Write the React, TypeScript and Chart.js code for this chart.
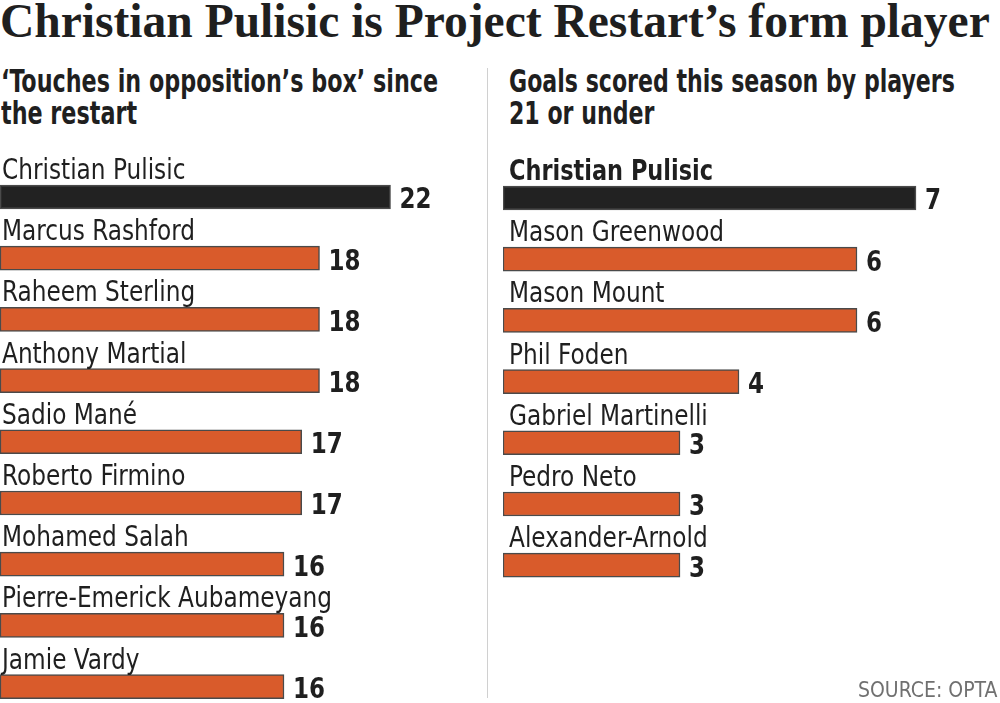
import React, { useEffect, useLayoutEffect, useRef, useState } from "react";
import { Chart, registerables } from "chart.js";

Chart.register(...registerables);

const titleText = "Christian Pulisic is Project Restart’s form player";
const leftSubtitle = ["‘Touches in opposition’s box’ since", "the restart"];
const rightSubtitle = ["Goals scored this season by players", "21 or under"];
const leftPlayers = [
  "Christian Pulisic",
  "Marcus Rashford",
  "Raheem Sterling",
  "Anthony Martial",
  "Sadio Mané",
  "Roberto Firmino",
  "Mohamed Salah",
  "Pierre-Emerick Aubameyang",
  "Jamie Vardy",
];
const leftValues = [22, 18, 18, 18, 17, 17, 16, 16, 16];
const rightPlayers = [
  "Christian Pulisic",
  "Mason Greenwood",
  "Mason Mount",
  "Phil Foden",
  "Gabriel Martinelli",
  "Pedro Neto",
  "Alexander-Arnold",
];
const rightValues = [7, 6, 6, 4, 3, 3, 3];
const sourceText = "SOURCE: OPTA";

const ORANGE = "#D95B2B";
const BLACK = "#222222";
const BORDER = "#4a4a4a";
const TEXT = "#1f1f1f";
const NARROW = '"DejaVu Sans Condensed", "DejaVu Sans", sans-serif';
const SERIF = '"Liberation Serif", "DejaVu Serif", serif';

const Y_MIN = -0.931;
const Y_MAX = 8.268;

type PanelProps = {
  names: string[];
  values: number[];
  xMax: number;
  labelOffset: number;
  boldFirst: boolean;
  left: number;
  top: number;
  width: number;
  height: number;
};

function drawScaled(ctx: CanvasRenderingContext2D, text: string, x: number, y: number, sx: number) {
  ctx.save();
  ctx.translate(x, y);
  ctx.scale(sx, 1);
  ctx.fillText(text, 0, 0);
  ctx.restore();
}

function BarPanel({ names, values, xMax, labelOffset, boldFirst, left, top, width, height }: PanelProps) {
  const ref = useRef<HTMLCanvasElement | null>(null);
  useEffect(() => {
    if (!ref.current) return;
    const labelPlugin = {
      id: "rowLabels",
      afterDatasetsDraw(chart: any) {
        const ctx: CanvasRenderingContext2D = chart.ctx;
        const meta = chart.getDatasetMeta(0);
        ctx.save();
        ctx.fillStyle = TEXT;
        ctx.textAlign = "left";
        ctx.textBaseline = "alphabetic";
        const regFont = `27.5px ${NARROW}`;
        const boldFont = `bold 27.5px ${NARROW}`;
        const valFont = `bold 29px ${NARROW}`;
        ctx.font = regFont;
        const sxReg = 330 / ctx.measureText("Pierre-Emerick Aubameyang").width;
        ctx.font = boldFont;
        const sxBold = 204 / ctx.measureText("Christian Pulisic").width;
        ctx.font = valFont;
        const sxVal = 32 / ctx.measureText("22").width;
        meta.data.forEach((bar: any, i: number) => {
          const barTop = bar.y - 12;
          const bold = i === 0 && boldFirst;
          ctx.font = bold ? boldFont : regFont;
          drawScaled(ctx, names[i], chart.chartArea.left + labelOffset, barTop - 6, bold ? sxBold : sxReg);
          ctx.font = valFont;
          drawScaled(ctx, String(values[i]), bar.x + 9, bar.y + 11.5, sxVal);
        });
        ctx.restore();
      },
    };
    const chart = new Chart(ref.current, {
      type: "bar",
      data: {
        labels: names,
        datasets: [
          {
            data: values.map((v, i) => ({ x: v, y: i })) as any,
            backgroundColor: values.map((_, i) => (i === 0 ? BLACK : ORANGE)),
            borderColor: BORDER,
            borderWidth: 1.5,
            borderSkipped: false,
            barThickness: 24,
            clip: false as any,
          },
        ],
      },
      options: {
        indexAxis: "y",
        animation: false,
        responsive: false,
        maintainAspectRatio: false,
        layout: { padding: 0 },
        scales: {
          x: { type: "linear", display: false, min: 0, max: xMax, offset: false },
          y: { type: "linear", display: false, reverse: true, min: Y_MIN, max: Y_MAX, offset: false },
        },
        plugins: { legend: { display: false }, tooltip: { enabled: false } },
      },
      plugins: [labelPlugin],
    });
    return () => chart.destroy();
  }, [names, values, xMax, labelOffset, boldFirst]);
  return (
    <canvas
      ref={ref}
      width={width}
      height={height}
      style={{ position: "absolute", left, top, width, height }}
    />
  );
}

function FitText({
  left,
  top,
  target,
  style,
  children,
}: {
  left: number;
  top: number;
  target: number;
  style: React.CSSProperties;
  children: React.ReactNode;
}) {
  const ref = useRef<HTMLDivElement | null>(null);
  const [sx, setSx] = useState(1);
  useLayoutEffect(() => {
    if (!ref.current) return;
    const w = ref.current.offsetWidth;
    if (w > 0) setSx(target / w);
  }, [target]);
  return (
    <div
      ref={ref}
      style={{
        position: "absolute",
        left,
        top,
        whiteSpace: "nowrap",
        transform: `scaleX(${sx})`,
        transformOrigin: "0 0",
        ...style,
      }}
    >
      {children}
    </div>
  );
}

const subStyle: React.CSSProperties = {
  fontFamily: NARROW,
  fontWeight: "bold",
  fontSize: 31.5,
  lineHeight: "32px",
  color: TEXT,
};

export default function App() {
  return (
    <div
      style={{
        position: "fixed",
        left: 0,
        top: 0,
        width: 1000,
        height: 703,
        background: "#fff",
        overflow: "hidden",
      }}
    >
      <FitText
        left={0}
        top={-7}
        target={990}
        style={{ fontFamily: SERIF, fontWeight: "bold", fontSize: 48, lineHeight: "56px", color: TEXT }}
      >
        {titleText}
      </FitText>
      <FitText left={1} top={65} target={437} style={subStyle}>
        {leftSubtitle.map((l, i) => (
          <div key={i}>{l}</div>
        ))}
      </FitText>
      <FitText left={509} top={65} target={446} style={subStyle}>
        {rightSubtitle.map((l, i) => (
          <div key={i}>{l}</div>
        ))}
      </FitText>
      <div
        style={{
          position: "absolute",
          left: 487,
          top: 68,
          width: 1,
          height: 630,
          background: "#d0d0d0",
        }}
      />
      <BarPanel
        names={leftPlayers}
        values={leftValues}
        xMax={480 / 17.75}
        labelOffset={2}
        boldFirst={false}
        left={0}
        top={140}
        width={480}
        height={563}
      />
      <BarPanel
        names={rightPlayers}
        values={rightValues}
        xMax={497 / 59}
        labelOffset={6}
        boldFirst={true}
        left={503}
        top={141}
        width={497}
        height={563}
      />
      <FitText
        left={858}
        top={677.7}
        target={139}
        style={{ fontFamily: NARROW, fontSize: 21, lineHeight: "24px", color: "#707070" }}
      >
        {sourceText}
      </FitText>
    </div>
  );
}
